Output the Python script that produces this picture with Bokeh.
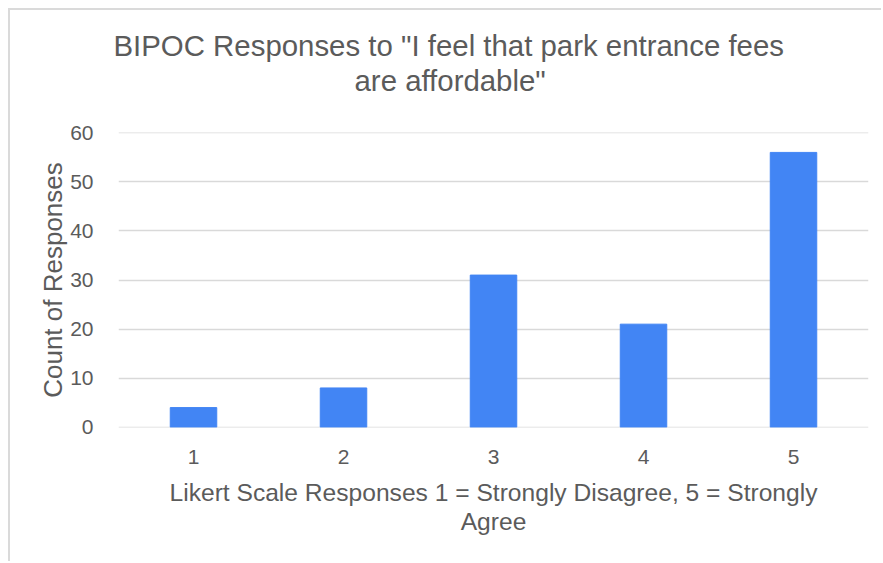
from bokeh.embed import file_html
from bokeh.models import ColumnDataSource, FixedTicker, Range1d, Title
from bokeh.plotting import figure
from bokeh.resources import INLINE

# Likert responses and their counts
categories = ["1", "2", "3", "4", "5"]
counts = [4, 8, 31, 21, 56]
y_ticks = [0, 10, 20, 30, 40, 50, 60]

title_lines = ['BIPOC Responses to "I feel that park entrance fees', 'are affordable"']
x_label_lines = ["Likert Scale Responses 1 = Strongly Disagree, 5 = Strongly", "Agree"]
y_label = "Count of Responses"

FONT = "Liberation Sans"
TEXT = "#5b5b5b"
BAR = "#4285f4"
GRID = "#d9d9d9"

positions = [i + 1 for i in range(len(categories))]
source = ColumnDataSource(data=dict(x=positions, count=counts))

p = figure(
    width=873,
    height=553,
    x_range=Range1d(0.5, len(categories) + 0.5),
    y_range=Range1d(-0.06, 60.06),
    output_backend="svg",
    toolbar_location=None,
    min_border_left=108,
    min_border_right=15,
    min_border_top=122,
    min_border_bottom=136,
    margin=(8, 0, 0, 8),
    styles={"border-top": "2px solid #dadada", "border-left": "2px solid #dadada"},
)
p.outline_line_color = None
p.background_fill_color = "white"
p.border_fill_color = "white"

p.vbar(x="x", top="count", width=0.31, source=source, color=BAR)

# axes
p.xaxis.ticker = FixedTicker(ticks=positions)
p.xaxis.major_label_overrides = {pos: cat for pos, cat in zip(positions, categories)}
p.yaxis.ticker = FixedTicker(ticks=y_ticks)
for ax in (p.xaxis[0], p.yaxis[0]):
    ax.axis_line_color = None
    ax.major_tick_line_color = None
    ax.minor_tick_line_color = None
    ax.major_label_text_font = FONT
    ax.major_label_text_font_size = "21px"
    ax.major_label_text_color = TEXT
p.xaxis.major_label_standoff = 16
p.yaxis.major_label_standoff = 19

p.xgrid.grid_line_color = None
p.ygrid.grid_line_color = GRID
p.ygrid.grid_line_width = 1.5

def make_title(text, size, standoff=0, align="center", offset=0):
    return Title(
        text=text, align=align, offset=offset, standoff=standoff,
        text_font=FONT, text_font_size=size, text_font_style="normal",
        text_color=TEXT,
    )

def spacer(gap):
    # blank title used only to open a gap in a side panel
    return Title(text=" ", text_font_size="1px", standoff=gap)

# chart title: a gap above the plot, then the second line, then the first
p.add_layout(spacer(33), "above")
p.add_layout(make_title(title_lines[1], "29.4px", align="left", offset=236), "above")
p.add_layout(make_title(title_lines[0], "29.4px", align="left", offset=-5), "above")

# x-axis title under the tick labels
p.add_layout(spacer(7), "below")
p.add_layout(make_title(x_label_lines[0], "24.6px"), "below")
p.add_layout(make_title(x_label_lines[1], "24.6px"), "below")

# y-axis title
p.add_layout(make_title(y_label, "26px"), "left")

open("out.html", "w").write(file_html(p, INLINE))
